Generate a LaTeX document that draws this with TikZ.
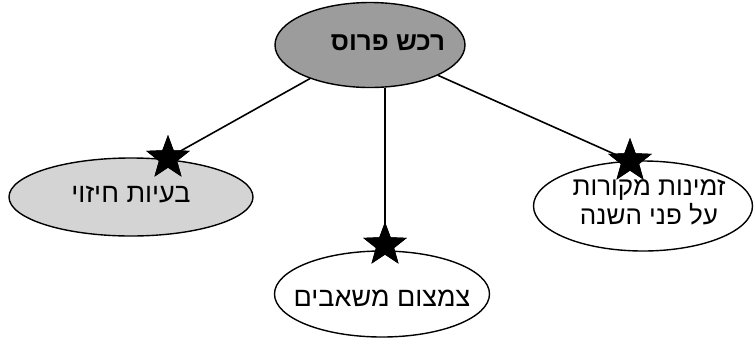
\documentclass[tikz,border=0pt]{standalone}
\usepackage{fontspec}
\usetikzlibrary{shapes.geometric}
\TeXXeTstate=1
\newfontfamily\heb[Script=Hebrew]{Liberation Sans}
\definecolor{topgray}{HTML}{9C9C9C}
\definecolor{leftgray}{HTML}{D4D4D4}
\begin{document}
\begin{tikzpicture}[x=1pt,y=-1pt,
  oval/.style={ellipse,draw=black,line width=1.4pt,inner sep=0pt},
  starbox/.style={star,star points=5,star point ratio=2.4,fill=black,draw=none,inner sep=0pt,minimum size=46pt},
  label/.style={font=\heb\fontsize{27}{31}\selectfont,align=center,inner sep=0pt},
  link/.style={line width=1.6pt}]
\useasboundingbox (0,0) rectangle (755,338);
% ellipses
\node[oval,fill=topgray,minimum width=190pt,minimum height=85pt] (top) at (370,45) {};
\node[oval,fill=leftgray,minimum width=244pt,minimum height=78pt] (left) at (131,197) {};
\node[oval,fill=white,minimum width=215pt,minimum height=86pt] (bottom) at (382,294) {};
\node[oval,fill=white,minimum width=219pt,minimum height=90pt] (right) at (643,206) {};
% texts
\node[label,font=\heb\bfseries\fontsize{26}{30}\selectfont] (toptext) at ([xshift=18pt,yshift=2pt]top.center) {\beginR רכש פרוס\endR};
\node[label] (lefttext) at ([yshift=2pt]left.center) {\beginR בעיות חיזוי\endR};
\node[label] (bottomtext) at ([yshift=-4pt]bottom.center) {\beginR צמצום משאבים\endR};
\node[label,font=\heb\fontsize{26}{29}\selectfont] (righttext) at ([xshift=6pt,yshift=4pt]right.center) {\beginR זמינות מקורות\endR\\\beginR על פני השנה\endR};
% stars
\node[starbox] (lstar) at (168,158) {};
\node[starbox] (bstar) at (385,245) {};
\node[starbox] (rstar) at (630,161) {};
% connectors
\draw[link] (top) -- (lstar.center);
\draw[link] (top.south -| bstar) -- (bstar.center);
\draw[link] (top) -- (rstar.center);
% redraw stars on top
\node[starbox] at (lstar) {};
\node[starbox] at (bstar) {};
\node[starbox] at (rstar) {};
\end{tikzpicture}
\end{document}
